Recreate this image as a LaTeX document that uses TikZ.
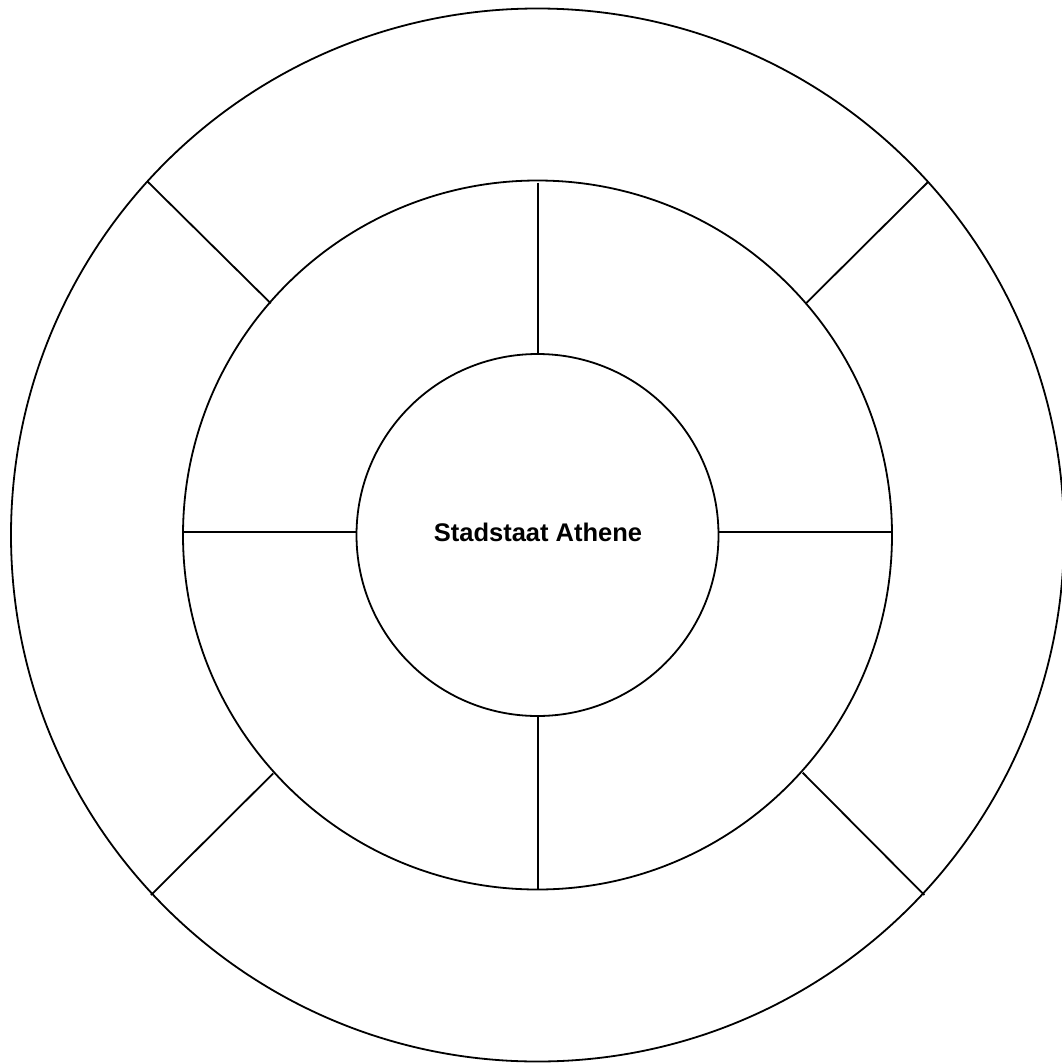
\documentclass[tikz,border=0pt]{standalone}
\usepackage{fontspec}
\setmainfont{Liberation Sans}
\begin{document}
\begin{tikzpicture}[x=1pt,y=-1pt,
  ring/.style={draw=black,line width=1.8pt},
  divider/.style={draw=black,line width=1.8pt},
  lbl/.style={font=\fontsize{25.5}{30}\selectfont\bfseries,inner sep=0pt}]
\useasboundingbox[fill=white] (0,0) rectangle (1062,1063);
\coordinate (c) at (537.5,535);
\draw[ring] (c) circle[radius=526.5];
\draw[ring] (c) circle[radius=354.5];
\draw[ring] (c) circle[radius=181];
% spokes inner ring
\draw[divider] (537.7,182.5) -- (537.7,354.3);
\draw[divider] (537.7,716) -- (537.7,889.5);
\draw[divider] (183.3,532.3) -- (356.7,532.3);
\draw[divider] (718.3,532.3) -- (892.7,532.3);
% diagonal dividers outer ring
\draw[divider] (147.7,181.7) -- (270.7,303.3);
\draw[divider] (928.3,181.7) -- (806,303.3);
\draw[divider] (151,895) -- (273.3,773.3);
\draw[divider] (924.3,895) -- (802.7,772.7);
\node[lbl] (title) at (538,532) {Stadstaat Athene};
\end{tikzpicture}
\end{document}
